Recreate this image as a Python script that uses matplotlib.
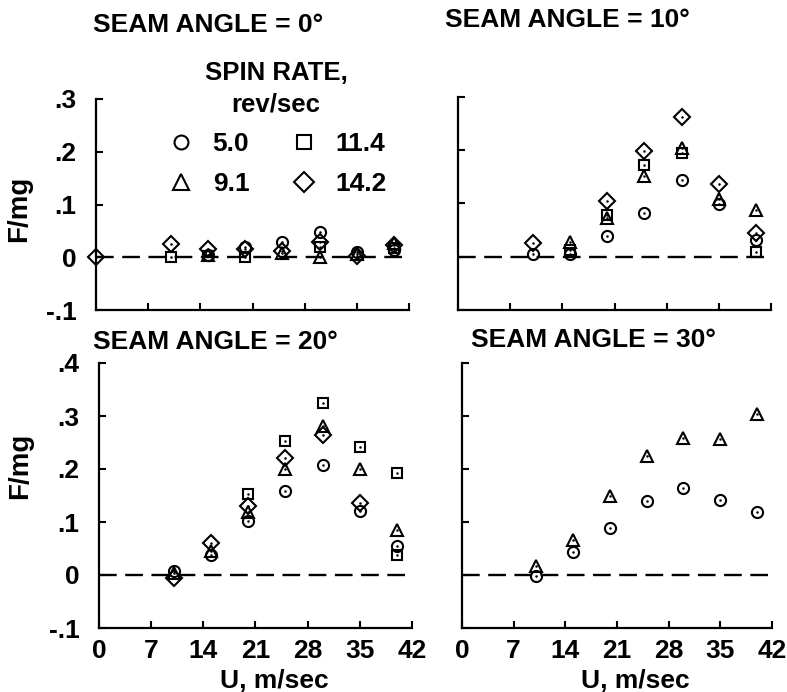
import matplotlib
matplotlib.use("Agg")
import matplotlib.pyplot as plt
from matplotlib.ticker import FixedLocator, FixedFormatter

plt.rcParams['font.family'] = ['Liberation Sans', 'DejaVu Sans']
plt.rcParams['font.weight'] = 'bold'

# ---------------- data ----------------
spin_rates = ["5.0", "9.1", "11.4", "14.2"]
x_ticks = [0, 7, 14, 21, 28, 35, 42]
x_tick_labels = ["0", "7", "14", "21", "28", "35", "42"]

# Seam angle 0 deg
a0_circle_u = [15, 20, 25, 30, 35, 40]
a0_circle_f = [0.004, 0.020, 0.029, 0.048, 0.010, 0.014]
a0_tri_u = [15, 25, 30, 35, 40]
a0_tri_f = [0.004, 0.008, 0.000, 0.006, 0.027]
a0_sq_u = [10, 15, 20, 30, 40]
a0_sq_f = [0.000, 0.002, 0.000, 0.020, 0.018]
a0_dia_u = [0, 10, 15, 20, 25, 30, 35, 40]
a0_dia_f = [0.000, 0.026, 0.015, 0.015, 0.012, 0.029, 0.003, 0.024]

# Seam angle 10 deg
a10_circle_u = [10, 15, 20, 25, 30, 35, 40]
a10_circle_f = [0.005, 0.006, 0.039, 0.083, 0.144, 0.099, 0.031]
a10_tri_u = [15, 20, 25, 30, 35, 40]
a10_tri_f = [0.028, 0.073, 0.151, 0.204, 0.108, 0.088]
a10_sq_u = [15, 20, 25, 30, 40]
a10_sq_f = [0.012, 0.078, 0.172, 0.194, 0.009]
a10_dia_u = [10, 20, 25, 30, 35, 40]
a10_dia_f = [0.025, 0.105, 0.198, 0.262, 0.136, 0.045]

# Seam angle 20 deg
a20_circle_u = [10, 15, 20, 25, 30, 35, 40]
a20_circle_f = [0.008, 0.037, 0.101, 0.159, 0.207, 0.120, 0.055]
a20_tri_u = [10, 15, 20, 25, 30, 35, 40]
a20_tri_f = [0.003, 0.045, 0.119, 0.200, 0.282, 0.200, 0.084]
a20_sq_u = [20, 25, 30, 35, 40, 40]
a20_sq_f = [0.152, 0.252, 0.324, 0.241, 0.193, 0.038]
a20_dia_u = [10, 15, 20, 25, 30, 35]
a20_dia_f = [-0.006, 0.061, 0.130, 0.221, 0.265, 0.135]

# Seam angle 30 deg
a30_circle_u = [10, 15, 20, 25, 30, 35, 40]
a30_circle_f = [-0.002, 0.043, 0.088, 0.139, 0.164, 0.141, 0.118]
a30_tri_u = [10, 15, 20, 25, 30, 35, 40]
a30_tri_f = [0.017, 0.066, 0.149, 0.225, 0.258, 0.256, 0.304]

panels = [
    ("SEAM ANGLE = 0\u00b0", [(a0_circle_u, a0_circle_f), (a0_tri_u, a0_tri_f),
                              (a0_sq_u, a0_sq_f), (a0_dia_u, a0_dia_f)]),
    ("SEAM ANGLE = 10\u00b0", [(a10_circle_u, a10_circle_f), (a10_tri_u, a10_tri_f),
                               (a10_sq_u, a10_sq_f), (a10_dia_u, a10_dia_f)]),
    ("SEAM ANGLE = 20\u00b0", [(a20_circle_u, a20_circle_f), (a20_tri_u, a20_tri_f),
                               (a20_sq_u, a20_sq_f), (a20_dia_u, a20_dia_f)]),
    ("SEAM ANGLE = 30\u00b0", [(a30_circle_u, a30_circle_f), (a30_tri_u, a30_tri_f),
                               ([], []), ([], [])]),
]
top_yticks = [-0.1, 0, 0.1, 0.2, 0.3]
top_ylabels = ["-.1", "0", ".1", ".2", ".3"]
bot_yticks = [-0.1, 0, 0.1, 0.2, 0.3, 0.4]
bot_ylabels = ["-.1", "0", ".1", ".2", ".3", ".4"]

# ---------------- layout ----------------
W, H = 787, 692
fig = plt.figure(figsize=(W / 100, H / 100), dpi=100)

def px_axes(l, r, t, b):
    return fig.add_axes([l / W, 1 - b / H, (r - l) / W, (b - t) / H])

axes = [
    px_axes(96, 409, 99, 310),
    px_axes(458, 771, 97, 310),
    px_axes(99, 412, 363, 628),
    px_axes(462, 772, 363, 628),
]
title_pos = [(-0.01, 1.35), (-0.04, 1.36), (-0.02, 1.08), (0.03, 1.085)]

markers = ['o', '^', 's', 'D']
msizes = [8.0, 9.0, 7.8, 8.4]

legend_handles = []
for i, (ax, (title, series)) in enumerate(zip(axes, panels)):
    top = i < 2
    ax.set_xlim(0, 42)
    if top:
        ax.set_ylim(-0.1, 0.3)
    else:
        ax.set_ylim(-0.1, 0.4)
    for s in ['top', 'right']:
        ax.spines[s].set_visible(False)
    for s in ['left', 'bottom']:
        ax.spines[s].set_linewidth(1.6)
    ax.axhline(0, color='black', lw=1.7, linestyle=(0, (7.5, 3.6)), zorder=1)

    for k, (u, f) in enumerate(series):
        h, = ax.plot(u, f, linestyle='none', marker=markers[k], ms=msizes[k],
                     mfc='none', mec='black', mew=1.5, zorder=3, clip_on=False)
        ax.plot(u, f, linestyle='none', marker='.', ms=1.6, color='black',
                zorder=4, clip_on=False)
        if i == 0:
            legend_handles.append(h)

    ax.xaxis.set_major_locator(FixedLocator(x_ticks))
    ax.tick_params(axis='both', direction='in', length=5, width=1.5)
    ax.tick_params(axis='x', pad=8, labelsize=19)
    ax.tick_params(axis='y', pad=14, labelsize=19)
    if top:
        ax.yaxis.set_major_locator(FixedLocator(top_yticks))
        ax.yaxis.set_major_formatter(FixedFormatter(top_ylabels))
    else:
        ax.yaxis.set_major_locator(FixedLocator(bot_yticks))
        ax.yaxis.set_major_formatter(FixedFormatter(bot_ylabels))
    if top:
        ax.set_xticklabels([])
    else:
        ax.xaxis.set_major_formatter(FixedFormatter(x_tick_labels))
        ax.set_xlabel("U, m/sec", fontsize=19, fontweight='bold', va='baseline')
    if i % 2 == 1:
        ax.set_yticklabels([])
    else:
        ax.set_ylabel("F/mg", fontsize=20, fontweight='bold')

    ax.text(title_pos[i][0], title_pos[i][1], title, transform=ax.transAxes,
            ha='left', va='center', fontsize=19, fontweight='bold')

axes[0].yaxis.set_label_coords(-0.205, 0.48)
axes[2].yaxis.set_label_coords(-0.21, 0.61)
axes[2].xaxis.set_label_coords(0.56, -0.225)
axes[3].xaxis.set_label_coords(0.56, -0.225)

leg = axes[0].legend(legend_handles, spin_rates, ncol=2, frameon=False,
                     title="SPIN RATE,\nrev/sec", fontsize=19,
                     title_fontproperties={'size': 18.5, 'weight': 'bold'},
                     markerscale=1.25,
                     handlelength=1.2, handletextpad=0.6, columnspacing=1.47,
                     labelspacing=0.6, borderpad=0.2,
                     loc='upper center', bbox_to_anchor=(276 / W, 1 - 43 / H),
                     bbox_transform=fig.transFigure)
leg.get_title().set_multialignment('center')
leg.get_title().set_linespacing(1.35)
leg.set_clip_on(False)

fig.savefig("out.png", dpi=100)
